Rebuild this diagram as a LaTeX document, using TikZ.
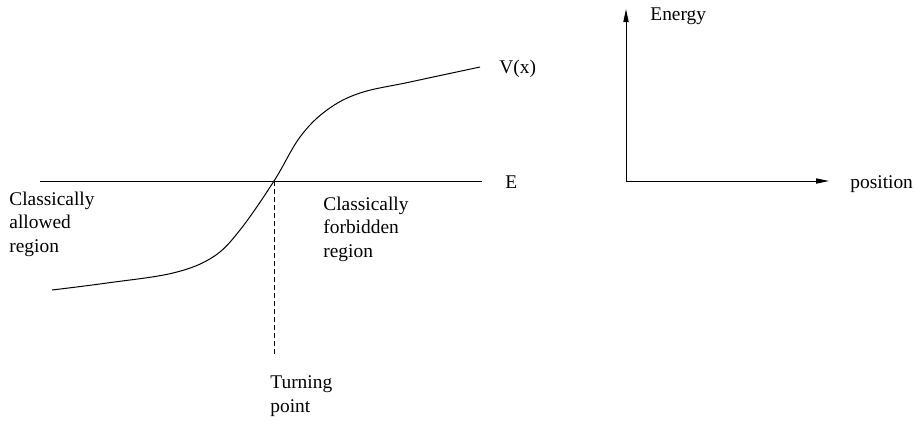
\documentclass[tikz,border=0pt]{standalone}
\usepackage{fontspec}
\setmainfont{Liberation Serif}
\usepackage{tikz}
\usetikzlibrary{arrows.meta,positioning}

\begin{document}
\begin{tikzpicture}[
    x=0.5pt, y=-0.5pt,
    lbl/.style={
      inner sep=0pt, anchor=base west, align=left,
      font=\fontsize{9.7}{11.75}\selectfont
    },
    curve/.style={line width=0.5pt, draw=black},
    axis/.style={-{Triangle[length=6.5pt,width=2.6pt]}, line width=0.5pt, draw=black},
    turnline/.style={line width=0.5pt, dash pattern=on 2.5pt off 1.5pt}
  ]
    \useasboundingbox (0,0) rectangle (915,425);

    % energy level and potential
    \coordinate (eleft) at (40,181);
    \coordinate (eright) at (482,181);
    \coordinate (turn) at (274,181);
    \coordinate (turnend) at (274,357);
    \node[lbl] (elabel) at (505,188) {E};
    \node[lbl] (vlabel) at (499,73) {V(x)};

    \draw[curve] (eleft) -- (eright);
    \draw[curve] plot[smooth, tension=0.6] coordinates {
      (52,290) (107,283) (173,273) (213,257) (240,230) (274,181)
      (300,137) (327,110) (360,93) (410,82) (480,67)};
    \draw[turnline] (turn) -- (turnend);

    % base anchor sits on the last line
    \node[lbl] (allowed) at (9,252) {Classically\\allowed\\region};
    \node[lbl] (forbidden) at (323,257) {Classically\\forbidden\\region};
    \node[lbl] (tpoint) at (270,412) {Turning\\point};

    % axes
    \coordinate (origin) at (626,181);
    \coordinate (ytip) at (626,9);
    \coordinate (xtip) at (829,181);
    \draw[axis] (origin) -- (ytip);
    \draw[axis] (origin) -- (xtip);
    \node[lbl] (ylabel) at (650,20) {Energy};
    \node[lbl] (xlabel) at (850,188) {position};
  \end{tikzpicture}
\end{document}
